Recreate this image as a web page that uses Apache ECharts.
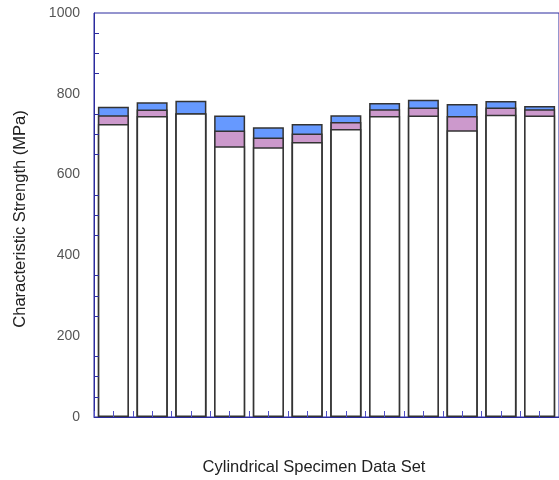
<!DOCTYPE html>
<html>
<head>
<meta charset="utf-8">
<script src="https://cdn.jsdelivr.net/npm/echarts@6/dist/echarts.min.js"></script>
<style>html,body{margin:0;padding:0;background:#fff;}#c{width:559px;height:480px;}</style>
</head>
<body>
<div id="c"></div>
<script>
const categories = ['1','2','3','4','5','6','7','8','9','10','11','12'];
// cumulative levels (MPa)
const lowerLevel  = [725, 745, 752, 670, 668, 681, 713, 745, 746, 710, 748, 746];
const middleLevel = [747, 761, 752, 709, 692, 702, 730, 762, 766, 745, 766, 762];
const upperLevel  = [768, 779, 783, 746, 717, 725, 747, 777, 785, 775, 782, 770];
const yTicks = [0, 200, 400, 600, 800, 1000];

const axisBlue = '#2b2b9e';
const font = 'Liberation Sans, Arial, sans-serif';
const chart = echarts.init(document.getElementById('c'), null, {renderer: 'canvas'});
const barCommon = {type: 'bar', barWidth: 31, barGap: '-100%', z: 2};
chart.setOption({
  animation: false,
  backgroundColor: '#fff',
  grid: {left: 94, top: 13, right: -3, bottom: 63, show: true, borderColor: axisBlue, borderWidth: 1, backgroundColor: 'transparent'},
  xAxis: [{
    type: 'category', data: categories, z: 10,
    axisLine: {lineStyle: {color: axisBlue}},
    axisTick: {show: true, inside: true, alignWithLabel: true, interval: 0, length: 6, lineStyle: {color: '#5050c8', width: 1}},
    axisLabel: {show: true, interval: 0, color: 'rgba(0,0,0,0)', fontSize: 1}
  }, {
    type: 'category', data: categories, position: 'bottom', z: 10,
    axisLine: {show: false},
    axisTick: {show: true, inside: true, interval: 0, length: 6, lineStyle: {color: '#5050c8', width: 1}},
    axisLabel: {show: true, interval: 0, color: 'rgba(0,0,0,0)', fontSize: 1}
  }],
  yAxis: {
    type: 'value', min: yTicks[0], max: yTicks[yTicks.length - 1], interval: 200, z: 10,
    axisLine: {show: true, lineStyle: {color: axisBlue}},
    axisTick: {inside: true, length: 5, lineStyle: {color: axisBlue}},
    minorTick: {show: true, splitNumber: 4, length: 5, lineStyle: {color: axisBlue}},
    splitLine: {show: false},
    axisLabel: {color: '#555', fontSize: 14, fontFamily: font, margin: 14, formatter: v => String(v)}
  },
  graphic: [{
    type: 'text', x: 314, y: 467,
    style: {text: 'Cylindrical Specimen Data Set', fill: '#222', fontSize: 16.5, fontFamily: font, textAlign: 'center', textVerticalAlign: 'middle'}
  }, {
    type: 'text', x: 20, y: 219, rotation: Math.PI / 2,
    style: {text: 'Characteristic Strength (MPa)', fill: '#222', fontSize: 16.5, fontFamily: font, textAlign: 'center', textVerticalAlign: 'middle'}
  }],
  series: [
    Object.assign({}, barCommon, {name: 'upper', data: upperLevel, itemStyle: {color: '#6699ff', borderColor: '#333', borderWidth: 1.5}}),
    Object.assign({}, barCommon, {name: 'middle', data: middleLevel, itemStyle: {color: '#cc99cc', borderColor: '#333', borderWidth: 1.5}}),
    Object.assign({}, barCommon, {name: 'lower', data: lowerLevel, itemStyle: {color: '#ffffff', borderColor: '#333', borderWidth: 1.5}})
  ]
});
</script>
</body>
</html>
